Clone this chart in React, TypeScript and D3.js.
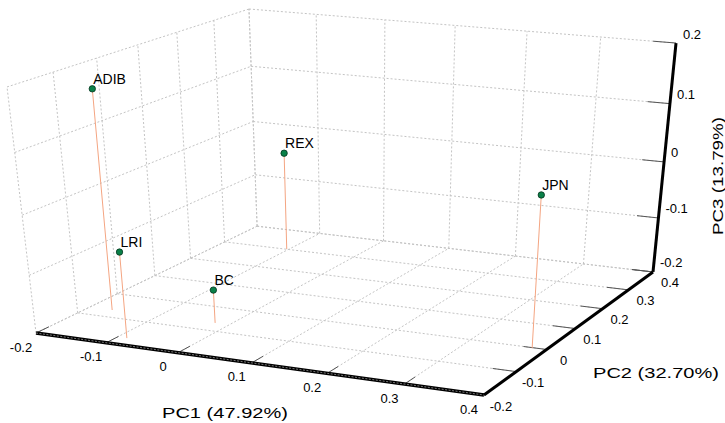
import * as d3 from "d3";

const W = 725;
const H = 423;

// axis tick values
const ticksPC1 = [-0.2, -0.1, 0, 0.1, 0.2, 0.3, 0.4];
const ticksPC2 = [-0.2, -0.1, 0, 0.1, 0.2, 0.3, 0.4];
const ticksPC3 = [-0.2, -0.1, 0, 0.1, 0.2];

const samples = ["ADIB", "LRI", "BC", "REX", "JPN"];
const pc1 = [-0.167, -0.087, -0.02, -0.103, 0.382];
const pc2 = [-0.07, -0.172, -0.067, 0.301, -0.002];
const pc3 = [0.171, -0.053, -0.142, -0.021, 0.054];

// where the cube's corners sit on the page, used to fit the perspective camera
const cube3d = [
  [-0.2, -0.2, -0.2], [0.4, -0.2, -0.2], [0.4, 0.4, -0.2],
  [0.4, 0.4, 0.2], [-0.2, 0.4, 0.2], [-0.2, -0.2, 0.2],
];
const cubePx = [[36, 333], [484, 395], [653, 272], [676, 43], [249, 9], [7, 87]];

const sx = d3.scaleLinear().domain([-0.2, 0.4]).range([0, 1]);
const sy = d3.scaleLinear().domain([-0.2, 0.4]).range([0, 1]);
const sz = d3.scaleLinear().domain([-0.2, 0.2]).range([0, 1]);

// least squares fit of a 3x4 projection matrix (DLT)
function fitCamera() {
  const rows: number[][] = [];
  const rhs: number[] = [];
  cube3d.forEach((p, i) => {
    const X = sx(p[0]), Y = sy(p[1]), Z = sz(p[2]);
    const u = (cubePx[i][0] - 360) / 360, v = (cubePx[i][1] - 210) / 360;
    rows.push([X, Y, Z, 1, 0, 0, 0, 0, -u * X, -u * Y, -u * Z]); rhs.push(u);
    rows.push([0, 0, 0, 0, X, Y, Z, 1, -v * X, -v * Y, -v * Z]); rhs.push(v);
  });
  const n = 11;
  const M = d3.range(n).map((i) => {
    const r = d3.range(n).map((j) => d3.sum(rows, (row) => row[i] * row[j]));
    r.push(d3.sum(rows, (row, k) => row[i] * rhs[k]));
    return r;
  });
  for (let c = 0; c < n; c++) {
    let piv = c;
    for (let r = c + 1; r < n; r++) if (Math.abs(M[r][c]) > Math.abs(M[piv][c])) piv = r;
    [M[c], M[piv]] = [M[piv], M[c]];
    for (let r = 0; r < n; r++) {
      if (r === c) continue;
      const f = M[r][c] / M[c][c];
      for (let k = c; k <= n; k++) M[r][k] -= f * M[c][k];
    }
  }
  return M.map((r, i) => r[n] / r[i]);
}

const P = fitCamera();

function project(x: number, y: number, z: number): [number, number] {
  const X = sx(x), Y = sy(y), Z = sz(z);
  const w = P[8] * X + P[9] * Y + P[10] * Z + 1;
  const u = (P[0] * X + P[1] * Y + P[2] * Z + P[3]) / w;
  const v = (P[4] * X + P[5] * Y + P[6] * Z + P[7]) / w;
  return [u * 360 + 360, v * 360 + 210];
}

const seg = (a: number[], b: number[]) => {
  const p = project(a[0], a[1], a[2]);
  const q = project(b[0], b[1], b[2]);
  return { x1: p[0], y1: p[1], x2: q[0], y2: q[1] };
};

const font = "'Liberation Sans', Arial, sans-serif";

export default function App() {
  const grid: { x1: number; y1: number; x2: number; y2: number }[] = [];
  ticksPC1.forEach((x) => {
    grid.push(seg([x, -0.2, -0.2], [x, 0.4, -0.2]));
    grid.push(seg([x, 0.4, -0.2], [x, 0.4, 0.2]));
  });
  ticksPC2.forEach((y) => {
    grid.push(seg([-0.2, y, -0.2], [0.4, y, -0.2]));
    grid.push(seg([-0.2, y, -0.2], [-0.2, y, 0.2]));
  });
  ticksPC3.forEach((z) => {
    grid.push(seg([-0.2, 0.4, z], [0.4, 0.4, z]));
    grid.push(seg([-0.2, -0.2, z], [-0.2, 0.4, z]));
  });

  const axis1 = seg([-0.2, -0.2, -0.2], [0.4, -0.2, -0.2]);
  const axis2 = seg([0.4, -0.2, -0.2], [0.4, 0.4, -0.2]);
  const axis3 = seg([0.4, 0.4, -0.2], [0.4, 0.4, 0.2]);

  return (
    <svg width={W} height={H} style={{ position: "absolute", left: 0, top: 0, background: "#fff" }} fontFamily={font}>
      <g stroke="#c4c4c4" strokeWidth={1} strokeDasharray="2,2" fill="none">
        {grid.map((g, i) => <line key={i} {...g} />)}
      </g>
      <g stroke="#555" strokeWidth={1}>
        {ticksPC2.map((y) => <line key={"t2" + y} {...seg([0.4, y, -0.2], [0.37, y, -0.2])} />)}
        {ticksPC3.map((z) => <line key={"t3" + z} {...seg([0.4, 0.4, z], [0.37, 0.4, z])} />)}
        {ticksPC1.map((x) => <line key={"t1" + x} {...seg([x, -0.2, -0.2], [x, -0.17, -0.2])} />)}
      </g>
      <line {...axis1} stroke="#000" strokeWidth={3.5} />
      <line {...axis1} stroke="#777" strokeWidth={1} strokeDasharray="2,1.5" />
      <line {...axis2} stroke="#000" strokeWidth={3} />
      <line {...axis3} stroke="#000" strokeWidth={3} />
      <g fontSize={13} fill="#000">
        {ticksPC1.map((x) => {
          const p = project(x, -0.2, -0.2);
          return <text key={"l1" + x} x={p[0] - 15} y={p[1] + 14} textAnchor="middle" dominantBaseline="central">{x}</text>;
        })}
        {ticksPC2.map((y) => {
          const p = project(0.4, y, -0.2);
          return <text key={"l2" + y} x={p[0] + 17} y={p[1] + 11} textAnchor="middle" dominantBaseline="central">{y}</text>;
        })}
        {ticksPC3.map((z) => {
          const p = project(0.4, 0.4, z);
          return <text key={"l3" + z} x={p[0] + 7} y={p[1] - 9} textAnchor="start" dominantBaseline="central">{z}</text>;
        })}
      </g>
      <g fontSize={15} fill="#000">
        <text x={162} y={418} textLength={126} lengthAdjust="spacingAndGlyphs">PC1 (47.92%)</text>
        <text x={593} y={378} textLength={126} lengthAdjust="spacingAndGlyphs">PC2 (32.70%)</text>
        <text transform="translate(723,235) rotate(-90)" textLength={118} lengthAdjust="spacingAndGlyphs">PC3 (13.79%)</text>
      </g>
      <g stroke="#f4a582" strokeWidth={1}>
        {samples.map((s, i) => <line key={"s" + s} {...seg([pc1[i], pc2[i], pc3[i]], [pc1[i], pc2[i], -0.2])} />)}
      </g>
      {samples.map((s, i) => {
        const p = project(pc1[i], pc2[i], pc3[i]);
        return (
          <g key={s}>
            <circle cx={p[0]} cy={p[1]} r={3.2} fill="#0a8048" stroke="#04331d" strokeWidth={0.8} />
            <text x={p[0] + 1} y={p[1] - 5} fontSize={14}>{s}</text>
          </g>
        );
      })}
    </svg>
  );
}
